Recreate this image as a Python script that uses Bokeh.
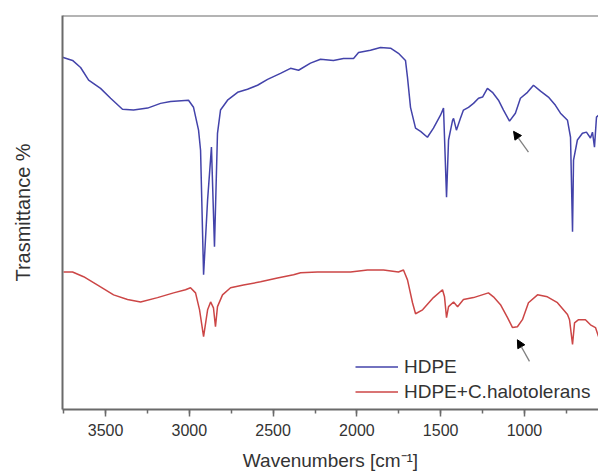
from bokeh.plotting import figure
from bokeh.models import (Range1d, SingleIntervalTicker, FixedTicker, Legend, LegendItem,
                          Span, Arrow, NormalHead, ColumnDataSource)
from bokeh.embed import file_html
from bokeh.resources import INLINE

# HDPE spectrum (wavenumber cm-1, transmittance a.u.)
wn_hdpe = [3757, 3697, 3649, 3601, 3530, 3470, 3399, 3333, 3249, 3172, 3112, 3005, 2975, 2945,
           2933, 2915, 2891, 2868, 2850, 2832, 2814, 2772, 2712, 2653, 2593, 2533, 2456, 2396,
           2348, 2277, 2217, 2140, 2080, 2020, 1990, 1919, 1859, 1799, 1752, 1710, 1698, 1680,
           1650, 1620, 1579, 1543, 1501, 1483, 1465, 1453, 1429, 1423, 1406, 1382, 1364, 1334,
           1304, 1274, 1250, 1221, 1191, 1155, 1125, 1089, 1054, 1024, 982, 946, 904, 857, 815,
           785, 743, 725, 713, 707, 684, 654, 630, 606, 594, 582, 570, 558]
t_hdpe = [89.4, 88.6, 86.8, 83.6, 81.5, 79.0, 76.2, 76.0, 76.5, 77.7, 78.2, 78.5, 76.7, 70.9,
          65.8, 34.2, 53.2, 66.6, 41.3, 70.1, 76.0, 78.5, 80.5, 81.3, 82.3, 83.8, 85.3, 86.6,
          86.1, 87.9, 88.9, 88.6, 89.1, 89.1, 90.6, 91.2, 91.9, 91.7, 90.4, 88.6, 84.3, 76.7,
          71.4, 70.6, 69.1, 71.4, 74.7, 76.5, 53.9, 68.4, 73.4, 73.9, 70.9, 73.9, 76.0, 76.7,
          77.7, 79.0, 79.3, 81.5, 80.5, 78.5, 76.0, 73.2, 75.2, 79.0, 80.5, 82.3, 80.8, 79.3, 77.2,
          75.2, 73.4, 69.1, 45.1, 63.3, 68.4, 70.1, 70.4, 68.9, 70.4, 66.6, 74.2, 74.7]

# HDPE + C. halotolerans spectrum
wn_bio = [3751, 3697, 3631, 3530, 3452, 3369, 3291, 3190, 3094, 3023, 2993, 2963, 2939, 2915,
          2891, 2873, 2856, 2844, 2832, 2802, 2754, 2677, 2575, 2474, 2378, 2336, 2235, 2140,
          2038, 1937, 1841, 1752, 1722, 1698, 1668, 1650, 1608, 1543, 1489, 1477, 1465, 1453,
          1423, 1399, 1364, 1304, 1215, 1185, 1143, 1101, 1071, 1042, 1012, 976, 922, 863, 803,
          743, 731, 713, 701, 677, 636, 606, 576, 558]
t_bio = [34.9, 34.9, 33.7, 31.1, 29.1, 27.9, 27.3, 28.4, 29.6, 30.4, 30.9, 29.6, 25.3, 18.5,
         25.3, 27.3, 25.8, 21.0, 26.1, 29.1, 30.9, 31.6, 32.4, 33.4, 34.2, 34.7, 34.9, 34.9,
         34.9, 35.4, 35.4, 34.9, 35.4, 32.9, 27.1, 24.3, 25.3, 28.4, 30.4, 28.6, 23.3, 26.1,
         27.3, 26.1, 27.9, 28.4, 29.6, 28.6, 26.6, 23.3, 20.8, 21.0, 22.8, 27.1, 29.1, 28.6, 27.1,
         24.1, 22.8, 16.5, 22.0, 22.8, 22.8, 21.5, 20.8, 18.5]

series_names = ["HDPE", "HDPE+C.halotolerans"]

# arrows marking the ~1050 cm-1 band: (x_start, y_start, x_end, y_end)
arrow_x0 = [976, 970]
arrow_y0 = [65.3, 12.2]
arrow_x1 = [1065, 1042]
arrow_y1 = [70.6, 17.7]

FONT = "Liberation Sans"
AXIS_COL = "#6a6a6a"
TXT_COL = "#333333"

p = figure(width=598, height=473, output_backend="svg", toolbar_location=None,
           x_range=Range1d(3757, 558), y_range=Range1d(0, 100),
           min_border_left=62, min_border_right=0, min_border_top=15, min_border_bottom=63)
p.outline_line_color = None
p.grid.visible = False
p.background_fill_color = "white"
p.border_fill_color = "white"

# x axis
xa = p.xaxis[0]
xa.ticker = SingleIntervalTicker(interval=500, num_minor_ticks=2)
xa.axis_line_color = AXIS_COL
xa.axis_line_width = 2
xa.major_tick_line_color = AXIS_COL
xa.minor_tick_line_color = AXIS_COL
xa.major_tick_line_width = 1.5
xa.minor_tick_line_width = 1.5
xa.major_tick_in = 0
xa.major_tick_out = 7
xa.minor_tick_in = 0
xa.minor_tick_out = 4
xa.major_label_text_font = FONT
xa.major_label_text_font_size = "16px"
xa.major_label_text_color = TXT_COL
xa.major_label_standoff = 7
xa.axis_label = "Wavenumbers [cm\u207b\u00b9]"
xa.axis_label_text_font = FONT
xa.axis_label_text_font_size = "19px"
xa.axis_label_text_font_style = "normal"
xa.axis_label_text_color = TXT_COL
xa.axis_label_standoff = 11

# y axis
ya = p.yaxis[0]
ya.ticker = FixedTicker(ticks=[])
ya.axis_line_color = AXIS_COL
ya.axis_line_width = 2
ya.major_tick_out = 0
ya.minor_tick_out = 0
ya.axis_label = "Trasmittance %"
ya.axis_label_text_font = FONT
ya.axis_label_text_font_size = "20px"
ya.axis_label_text_font_style = "normal"
ya.axis_label_text_color = TXT_COL
ya.axis_label_standoff = 29

# top frame line
p.add_layout(Span(location=100, dimension="width", line_color=AXIS_COL, line_width=2))

r1 = p.line(wn_hdpe, t_hdpe, line_color="#4343aa", line_width=1.5)
r2 = p.line(wn_bio, t_bio, line_color="#cc4646", line_width=1.5)

legend = Legend(items=[LegendItem(label=series_names[0], renderers=[r1]),
                       LegendItem(label=series_names[1], renderers=[r2])],
                location=(293, 5), padding=0, margin=0, spacing=0,
                glyph_width=43, glyph_height=25, label_height=25, label_standoff=6,
                label_text_font=FONT, label_text_font_size="19px", label_text_color=TXT_COL,
                background_fill_alpha=0, border_line_color=None)
p.add_layout(legend)

asrc = ColumnDataSource(dict(x0=arrow_x0, y0=arrow_y0, x1=arrow_x1, y1=arrow_y1))
p.add_layout(Arrow(x_start="x0", y_start="y0", x_end="x1", y_end="y1", source=asrc,
                   line_color="#808080", line_width=1.3,
                   end=NormalHead(size=8, fill_color="black", line_color="black")))

open("out.html", "w").write(file_html(p, INLINE))
